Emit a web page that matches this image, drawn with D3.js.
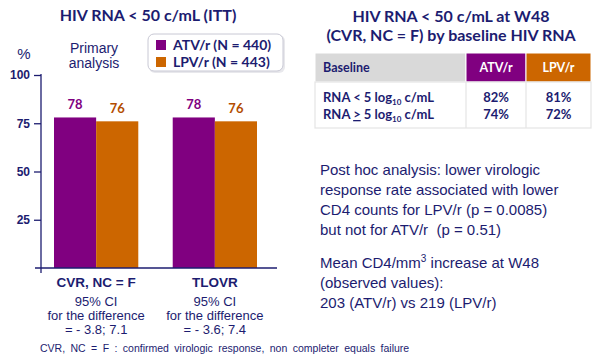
<!DOCTYPE html>
<html>
<head>
<meta charset="utf-8">
<script src="https://cdn.jsdelivr.net/npm/d3@7"></script>
<style>
  body { margin: 0; background: #fff; }
  svg { display: block; }
</style>
</head>
<body>
<svg id="chart" width="600" height="362"></svg>
<script>
// data
const categories = ["CVR, NC = F", "TLOVR"]
const series = ["ATV/r (N = 440)", "LPV/r (N = 443)"]
const atvValues = [78, 78]   // ATV/r, % < 50 c/mL
const lpvValues = [76, 76]   // LPV/r
const yTicks = [25, 50, 75, 100]
const ciLines = [
  ["95% CI", "for the difference", "= - 3.8; 7.1"],
  ["95% CI", "for the difference", "= - 3.6; 7.4"]
]
const tableHeader = ["Baseline", "ATV/r", "LPV/r"]
const tableRows = [
  { sym: "<", atv: "82%", lpv: "81%" },
  { sym: "≥", atv: "74%", lpv: "72%" }
]

// style
const navy = "#1c1c70"
const purple = "#800080"
const orange = "#cc6600"
const colors = [purple, orange]
const labelColors = [purple, "#b34d00"]
const titleFont = "Lato, 'Open Sans', sans-serif"
const bodyFont = "'Liberation Sans', Arial, sans-serif"

const svg = d3.select("#chart")

// left panel -------------------------------------------------
svg.append("text")
  .attr("x", 148).attr("y", 21)
  .attr("text-anchor", "middle")
  .attr("font-family", titleFont).attr("font-weight", "bold")
  .attr("font-size", 16).attr("fill", navy)
  .text("HIV RNA < 50 c/mL (ITT)")

const y = d3.scaleLinear().domain([0, 100]).range([268, 75])
const x0 = d3.scaleBand().domain(categories).range([54, 257])
  .paddingInner(0.29).paddingOuter(0)
const x1 = d3.scaleBand().domain([0, 1]).range([0, x0.bandwidth()])

const yAxis = svg.append("g")
  .attr("transform", "translate(41,0)")
  .call(d3.axisLeft(y).tickValues(yTicks).tickSize(7).tickSizeOuter(0))
yAxis.select(".domain").remove()
yAxis.selectAll(".tick line").attr("stroke", navy).attr("stroke-width", 1.3)
yAxis.selectAll(".tick text")
  .attr("x", -11)
  .attr("font-family", bodyFont).attr("font-weight", "bold")
  .attr("font-size", 12).attr("fill", navy)

svg.append("line")
  .attr("x1", 41).attr("x2", 41)
  .attr("y1", y(100) - 1).attr("y2", y(0) + 5)
  .attr("stroke", navy).attr("stroke-width", 1.3)

svg.append("text")
  .attr("x", 24).attr("y", 59)
  .attr("text-anchor", "middle")
  .attr("font-family", bodyFont)
  .attr("font-size", 15).attr("fill", navy)
  .text("%")

const groups = svg.selectAll(".grp")
  .data(categories)
  .join("g")
  .attr("class", "grp")
  .attr("transform", d => `translate(${x0(d)},0)`)

const barsOf = (d, i) => [
  { v: atvValues[i], k: 0 },
  { v: lpvValues[i], k: 1 }
]

groups.selectAll("rect")
  .data(barsOf)
  .join("rect")
  .attr("x", d => x1(d.k))
  .attr("width", x1.bandwidth())
  .attr("y", d => y(d.v))
  .attr("height", d => y(0) - y(d.v))
  .attr("fill", d => colors[d.k])

groups.selectAll(".val")
  .data(barsOf)
  .join("text")
  .attr("class", "val")
  .attr("x", d => x1(d.k) + x1.bandwidth() / 2)
  .attr("y", d => y(d.v) - 8)
  .attr("text-anchor", "middle")
  .attr("font-family", titleFont).attr("font-weight", "bold")
  .attr("font-size", 13)
  .attr("fill", d => labelColors[d.k])
  .text(d => d.v)

svg.append("line")
  .attr("x1", 35).attr("x2", 277)
  .attr("y1", y(0)).attr("y2", y(0))
  .attr("stroke", navy).attr("stroke-width", 1.3)

// category labels + CI
groups.append("text")
  .attr("x", x0.bandwidth() / 2).attr("y", 287)
  .attr("text-anchor", "middle")
  .attr("font-family", bodyFont).attr("font-weight", "bold")
  .attr("font-size", 13.5).attr("fill", navy)
  .text(d => d)

groups.each(function (d, i) {
  d3.select(this).selectAll(".ci")
    .data(ciLines[i])
    .join("text")
    .attr("class", "ci")
    .attr("x", x0.bandwidth() / 2)
    .attr("y", (t, j) => 306 + j * 14)
    .attr("text-anchor", "middle")
    .attr("font-family", bodyFont)
    .attr("font-size", 13).attr("fill", navy)
    .text(t => t)
})

// primary analysis
svg.selectAll(".prim")
  .data(["Primary", "analysis"])
  .join("text")
  .attr("class", "prim")
  .attr("x", 94).attr("y", (d, i) => 53 + i * 15)
  .attr("text-anchor", "middle")
  .attr("font-family", bodyFont)
  .attr("font-size", 14).attr("fill", navy)
  .text(d => d)

// legend
svg.append("rect")
  .attr("x", 149).attr("y", 35).attr("width", 136).attr("height", 38)
  .attr("rx", 6).attr("fill", "#d8d8e0").attr("opacity", 0.6)
svg.append("rect")
  .attr("x", 148).attr("y", 34).attr("width", 135).attr("height", 37)
  .attr("rx", 6).attr("fill", "#fff")
  .attr("stroke", "#c8c8d4").attr("stroke-width", 1)

const legend = svg.selectAll(".leg")
  .data(series)
  .join("g")
  .attr("class", "leg")
  .attr("transform", (d, i) => `translate(156,${40 + i * 17})`)
legend.append("rect")
  .attr("width", 10).attr("height", 10)
  .attr("fill", (d, i) => colors[i])
legend.append("text")
  .attr("x", 17).attr("y", 10)
  .attr("font-family", titleFont).attr("font-weight", "bold")
  .attr("font-size", 14).attr("fill", navy)
  .text(d => d)

// footnote
svg.append("text")
  .attr("x", 40).attr("y", 352)
  .attr("font-family", bodyFont)
  .attr("font-size", 10.5).attr("fill", navy)
  .attr("word-spacing", 2.5)
  .text("CVR, NC = F : confirmed virologic response, non completer equals failure")

// right panel ------------------------------------------------
svg.selectAll(".rtitle")
  .data(["HIV RNA < 50 c/mL at W48", "(CVR, NC = F) by baseline HIV RNA"])
  .join("text")
  .attr("class", "rtitle")
  .attr("x", 451).attr("y", (d, i) => 22 + i * 19)
  .attr("text-anchor", "middle")
  .attr("font-family", titleFont).attr("font-weight", "bold")
  .attr("font-size", 16).attr("fill", navy)
  .text(d => d)

const colX = [315, 466, 526, 591]
const headTop = 53, headBot = 82, bodyBot = 128
const headFill = ["#d9d9d9", purple, orange]

svg.selectAll(".hcell")
  .data(tableHeader)
  .join("rect")
  .attr("class", "hcell")
  .attr("x", (d, i) => colX[i]).attr("y", headTop)
  .attr("width", (d, i) => colX[i + 1] - colX[i]).attr("height", headBot - headTop)
  .attr("fill", (d, i) => headFill[i])
  .attr("stroke", "#fff").attr("stroke-width", 1)

svg.selectAll(".htext")
  .data(tableHeader)
  .join("text")
  .attr("class", "htext")
  .attr("x", (d, i) => i === 0 ? colX[0] + 8 : (colX[i] + colX[i + 1]) / 2)
  .attr("y", 72)
  .attr("text-anchor", (d, i) => i === 0 ? "start" : "middle")
  .attr("font-family", titleFont).attr("font-weight", "bold")
  .attr("font-size", 12.5)
  .attr("fill", (d, i) => i === 0 ? navy : "#fff")
  .text(d => d)

// body borders
const bg = svg.append("g").attr("stroke", "#e4e4e4").attr("stroke-width", 1.2).attr("fill", "none")
bg.append("rect").attr("x", colX[0]).attr("y", headBot)
  .attr("width", colX[3] - colX[0]).attr("height", bodyBot - headBot)
bg.selectAll("line").data([colX[1], colX[2]]).join("line")
  .attr("x1", d => d).attr("x2", d => d)
  .attr("y1", headBot).attr("y2", bodyBot)

const rows = svg.selectAll(".trow")
  .data(tableRows)
  .join("g")
  .attr("class", "trow")
  .attr("transform", (d, i) => `translate(0,${102 + i * 17})`)
  .attr("font-family", titleFont).attr("font-weight", "bold")
  .attr("font-size", 13).attr("fill", navy)

const lab = rows.append("text").attr("x", colX[0] + 8)
lab.append("tspan").text(d => d.sym === "≥" ? "RNA " : "RNA " + d.sym + " ")
lab.filter(d => d.sym === "≥").append("tspan").text(">").attr("text-decoration", "underline")
lab.filter(d => d.sym === "≥").append("tspan").text(" ")
lab.append("tspan").text("5 log")
lab.append("tspan").attr("font-size", 8).attr("dy", 3).text("10")
lab.append("tspan").attr("dy", -3).text(" c/mL")

rows.append("text")
  .attr("x", (colX[1] + colX[2]) / 2).attr("text-anchor", "middle")
  .text(d => d.atv)
rows.append("text")
  .attr("x", (colX[2] + colX[3]) / 2).attr("text-anchor", "middle")
  .text(d => d.lpv)

// notes
const notes = [
  "Post hoc analysis: lower virologic",
  "response rate associated with lower",
  "CD4 counts for LPV/r (p = 0.0085)",
  "but not for ATV/r  (p = 0.51)"
]
svg.selectAll(".note")
  .data(notes)
  .join("text")
  .attr("class", "note")
  .attr("x", 320).attr("y", (d, i) => 175 + i * 20)
  .attr("font-family", bodyFont)
  .attr("font-size", 15).attr("fill", navy)
  .attr("xml:space", "preserve")
  .text(d => d)

const mean = svg.append("g")
  .attr("font-family", bodyFont).attr("font-size", 15).attr("fill", navy)
const m1 = mean.append("text").attr("x", 320).attr("y", 268)
m1.append("tspan").text("Mean CD4/mm")
m1.append("tspan").attr("font-size", 10).attr("dy", -6).text("3")
m1.append("tspan").attr("dy", 6).text(" increase at W48")
mean.append("text").attr("x", 320).attr("y", 288).text("(observed values):")
mean.append("text").attr("x", 320).attr("y", 308).text("203 (ATV/r) vs 219 (LPV/r)")
</script>
</body>
</html>
